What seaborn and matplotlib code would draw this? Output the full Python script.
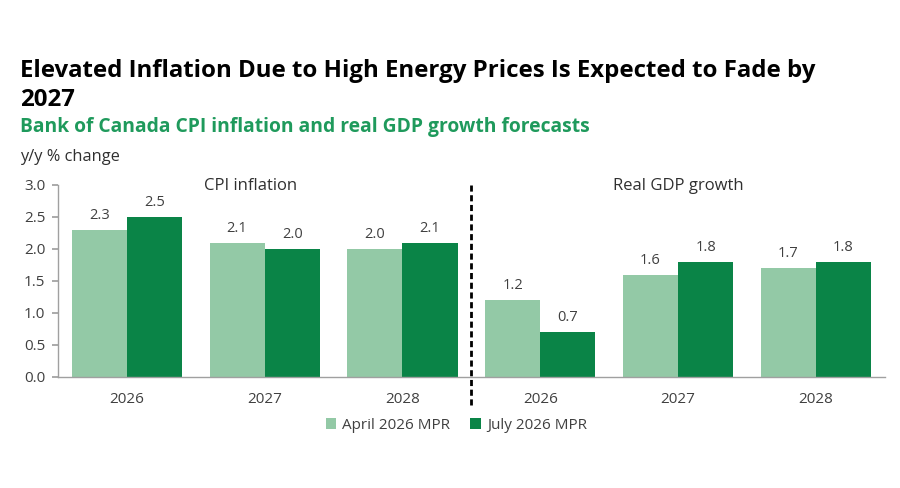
import numpy as np
import pandas as pd
import matplotlib
matplotlib.use("Agg")
import matplotlib.pyplot as plt
import seaborn as sns

# data
groups = ["CPI 2026", "CPI 2027", "CPI 2028", "GDP 2026", "GDP 2027", "GDP 2028"]
year_labels = ["2026", "2027", "2028", "2026", "2027", "2028"]
series = ["April 2026 MPR", "July 2026 MPR"]
april = [2.3, 2.1, 2.0, 1.2, 1.6, 1.7]
july = [2.5, 2.0, 2.1, 0.7, 1.8, 1.8]
panel_labels = ["CPI inflation", "Real GDP growth"]
yticks = [0.0, 0.5, 1.0, 1.5, 2.0, 2.5, 3.0]

df = pd.DataFrame({
    "group": groups * 2,
    "series": [series[0]] * len(groups) + [series[1]] * len(groups),
    "value": april + july,
})

sns.set_theme(style="white")
plt.rcParams['font.family'] = ['Open Sans', 'DejaVu Sans']

light = "#93c9a6"
dark = "#0a8447"
txt = "#404040"

fig = plt.figure(figsize=(9, 4.88), dpi=100)
ax = fig.add_axes([0.0644, 0.2275, 0.9186, 0.3935])

sns.barplot(data=df, x="group", y="value", hue="series", order=groups,
            hue_order=series, palette=[light, dark], width=0.8,
            saturation=1, linewidth=0, ax=ax, legend=True)

for cont in ax.containers:
    ax.bar_label(cont, fmt="%.1f", padding=5, fontsize=10.5, color=txt)

ax.set_ylim(0, 3)
ax.set_yticks(yticks)
ax.set_yticklabels([f"{v:.1f}" for v in yticks], fontsize=11, color=txt)
ax.set_xticks(range(len(groups)))
ax.set_xticklabels(year_labels, fontsize=11, color=txt)
ax.set_xlim(-0.5, len(groups) - 0.5)
ax.set_xlabel("")
ax.set_ylabel("")
sns.despine(ax=ax)
for s in ["left", "bottom"]:
    ax.spines[s].set_color("#a0a0a0")
    ax.spines[s].set_linewidth(1)
ax.tick_params(axis="y", length=4, color="#a0a0a0", left=True, pad=5)
ax.tick_params(axis="x", length=0, pad=11)

# divider between the two panels
ax.plot([2.5, 2.5], [-0.44, 3.03], color="black", lw=2, ls=(0, (2.2, 1.3)),
        clip_on=False)
ax.text(0.9, 2.98, panel_labels[0], ha="center", va="center", fontsize=12, color="#303030")
ax.text(4.0, 2.98, panel_labels[1], ha="center", va="center", fontsize=12, color="#303030")

handles, labels = ax.get_legend_handles_labels()
ax.get_legend().remove()
fig.legend(handles, labels, loc="center", bbox_to_anchor=(0.507, 0.128), ncol=2,
           frameon=False, fontsize=11, handlelength=0.7, handleheight=0.7,
           handletextpad=0.4, columnspacing=1.3, labelcolor=txt)

fig.text(0.022, 1 - 77 / 488, "Elevated Inflation Due to High Energy Prices Is Expected to Fade by",
         fontsize=17.3, fontweight="bold", color="black", va="baseline")
fig.text(0.022, 1 - 106 / 488, "2027", fontsize=17.3, fontweight="bold", color="black", va="baseline")
fig.text(0.022, 1 - 132 / 488, "Bank of Canada CPI inflation and real GDP growth forecasts",
         fontsize=13.9, fontweight="bold", color="#1f9a5c", va="baseline")
fig.text(0.022, 1 - 161 / 488, "y/y % change", fontsize=11.8, color="#303030", va="baseline")

fig.savefig("out.png", dpi=100, facecolor="white")
